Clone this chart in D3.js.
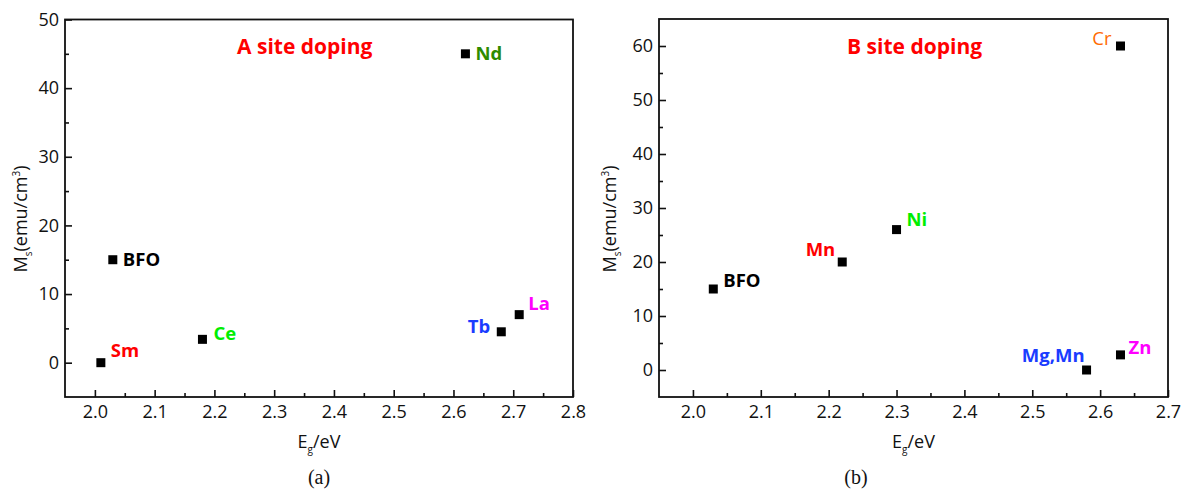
<!DOCTYPE html>
<meta charset="utf-8">
<script src="https://d3js.org/d3.v7.min.js"></script>
<style>
body { margin: 0; background: #fff; }
svg text { font-family: "Open Sans", "Liberation Sans", sans-serif; }
.axis text { font-size: 18px; fill: #111; }
.axis line { stroke: #111; stroke-width: 1.6px; }
.axis path { display: none; }
</style>
<body>
<script>

// panel (a): A site doping
var aNames = ["BFO", "Sm", "Ce", "Tb", "La", "Nd"];
var aEg = [2.03, 2.01, 2.18, 2.68, 2.71, 2.62];
var aMs = [15, 0, 3.4, 4.5, 7, 45];
var aXTicks = [2.0, 2.1, 2.2, 2.3, 2.4, 2.5, 2.6, 2.7, 2.8];
var aYTicks = [0, 10, 20, 30, 40, 50];

// panel (b): B site doping
var bNames = ["BFO", "Mn", "Ni", "Mg,Mn", "Zn", "Cr"];
var bEg = [2.03, 2.22, 2.30, 2.58, 2.63, 2.63];
var bMs = [15, 20, 26, 0, 2.8, 60];
var bXTicks = [2.0, 2.1, 2.2, 2.3, 2.4, 2.5, 2.6, 2.7];
var bYTicks = [0, 10, 20, 30, 40, 50, 60];

// label look: colour, anchor side, offsets from the marker
var labelStyle = {
  a: {
    "BFO": {c: "#000000", dx: 10, dy: 6, anchor: "start"},
    "Sm":  {c: "#ff0000", dx: 10, dy: -6, anchor: "start"},
    "Ce":  {c: "#00ee00", dx: 11, dy: 1, anchor: "start"},
    "Tb":  {c: "#1a3cff", dx: -11, dy: 1, anchor: "end"},
    "La":  {c: "#ff00ff", dx: 9, dy: -5, anchor: "start"},
    "Nd":  {c: "#2e8b00", dx: 10, dy: 6, anchor: "start"}
  },
  b: {
    "BFO":   {c: "#000000", dx: 10, dy: -2, anchor: "start"},
    "Mn":    {c: "#ff0000", dx: -7, dy: -6, anchor: "end"},
    "Ni":    {c: "#00ee00", dx: 10, dy: -4, anchor: "start"},
    "Mg,Mn": {c: "#1a3cff", dx: -2, dy: -8, anchor: "end"},
    "Zn":    {c: "#ff00ff", dx: 8, dy: -1, anchor: "start"},
    "Cr":    {c: "#ff6a00", dx: -9, dy: -1, anchor: "end", normal: true}
  }
};

var svg = d3.select("body").append("svg")
  .attr("width", 1192)
  .attr("height", 492);

function drawPanel(opt) {
  var x = d3.scaleLinear().domain(opt.xDomain).range([opt.left, opt.right]);
  var y = d3.scaleLinear().domain(opt.yDomain).range([opt.bottom, opt.top]);

  var g = svg.append("g");

  // minor ticks
  var xMinor = opt.xTicks.slice(0, -1).map(function(d) { return +(d + 0.05).toFixed(2); });
  var yMinor = opt.yTicks.map(function(d) { return d + 5; }).filter(function(d) { return d < opt.yDomain[1]; });

  g.append("g").attr("class", "axis")
    .attr("transform", "translate(0," + opt.bottom + ")")
    .call(d3.axisBottom(x).tickValues(xMinor).tickSize(-4).tickFormat(""));
  g.append("g").attr("class", "axis")
    .attr("transform", "translate(" + opt.left + ",0)")
    .call(d3.axisLeft(y).tickValues(yMinor).tickSize(-4).tickFormat(""));

  // major ticks
  g.append("g").attr("class", "axis")
    .attr("transform", "translate(0," + opt.bottom + ")")
    .call(d3.axisBottom(x).tickValues(opt.xTicks).tickSize(-7).tickPadding(8).tickFormat(d3.format(".1f")));
  g.append("g").attr("class", "axis")
    .attr("transform", "translate(" + opt.left + ",0)")
    .call(d3.axisLeft(y).tickValues(opt.yTicks).tickSize(-7).tickPadding(6).tickFormat(d3.format("d")));

  // frame
  g.append("rect")
    .attr("x", opt.left).attr("y", opt.top)
    .attr("width", opt.right - opt.left).attr("height", opt.bottom - opt.top)
    .attr("fill", "none").attr("stroke", "#111").attr("stroke-width", 1.8);

  var pts = opt.names.map(function(n, i) { return {name: n, eg: opt.eg[i], ms: opt.ms[i]}; });

  g.selectAll(".pt").data(pts).enter().append("rect")
    .attr("class", "pt")
    .attr("x", function(d) { return x(d.eg) - 4.5; })
    .attr("y", function(d) { return y(d.ms) - 4.5; })
    .attr("width", 9).attr("height", 9)
    .attr("fill", "#000");

  g.selectAll(".lbl").data(pts).enter().append("text")
    .attr("class", "lbl")
    .attr("x", function(d) { return x(d.eg) + opt.style[d.name].dx; })
    .attr("y", function(d) { return y(d.ms) + opt.style[d.name].dy; })
    .attr("text-anchor", function(d) { return opt.style[d.name].anchor; })
    .attr("fill", function(d) { return opt.style[d.name].c; })
    .style("font-size", "18.5px")
    .style("font-weight", function(d) { return opt.style[d.name].normal ? "normal" : "bold"; })
    .text(function(d) { return d.name; });

  // panel title
  g.append("text")
    .attr("x", opt.titleX).attr("y", 54)
    .attr("fill", "#ff0000")
    .style("font-size", "21px").style("font-weight", "bold")
    .text(opt.title);

  // x title
  var xt = g.append("text")
    .attr("x", (opt.left + opt.right) / 2).attr("y", 448)
    .attr("text-anchor", "middle")
    .style("font-size", "18px").attr("fill", "#111");
  xt.append("tspan").text("E");
  xt.append("tspan").attr("dy", 5).style("font-size", "10px").text("g");
  xt.append("tspan").attr("dy", -5).text("/eV");

  // y title
  var yt = g.append("text")
    .attr("transform", "translate(" + opt.yTitleX + "," + opt.yTitleY + ") rotate(-90)")
    .attr("text-anchor", "middle")
    .style("font-size", "18px").attr("fill", "#111");
  yt.append("tspan").text("M");
  yt.append("tspan").attr("dy", 5).style("font-size", "10px").text("s");
  yt.append("tspan").attr("dy", -5).text("(emu/cm");
  yt.append("tspan").attr("dy", -7).style("font-size", "10px").text("3");
  yt.append("tspan").attr("dy", 7).text(")");

  // caption
  svg.append("text")
    .attr("x", opt.capX).attr("y", 484)
    .attr("text-anchor", "middle")
    .style("font-family", "'Liberation Serif', 'Times New Roman', serif")
    .style("font-size", "20px").attr("fill", "#111")
    .text(opt.caption);
}

drawPanel({
  names: aNames, eg: aEg, ms: aMs, style: labelStyle.a,
  xTicks: aXTicks, yTicks: aYTicks,
  xDomain: [1.95, 2.8], yDomain: [-5, 50],
  left: 65, right: 573, top: 19.5, bottom: 397,
  title: "A site doping", titleX: 237, yTitleX: 27, yTitleY: 219,
  caption: "(a)", capX: 319
});

drawPanel({
  names: bNames, eg: bEg, ms: bMs, style: labelStyle.b,
  xTicks: bXTicks, yTicks: bYTicks,
  xDomain: [1.95, 2.7], yDomain: [-5, 65],
  left: 659, right: 1168, top: 19, bottom: 397,
  title: "B site doping", titleX: 847, yTitleX: 616, yTitleY: 219,
  caption: "(b)", capX: 856
});

</script>
</body>
